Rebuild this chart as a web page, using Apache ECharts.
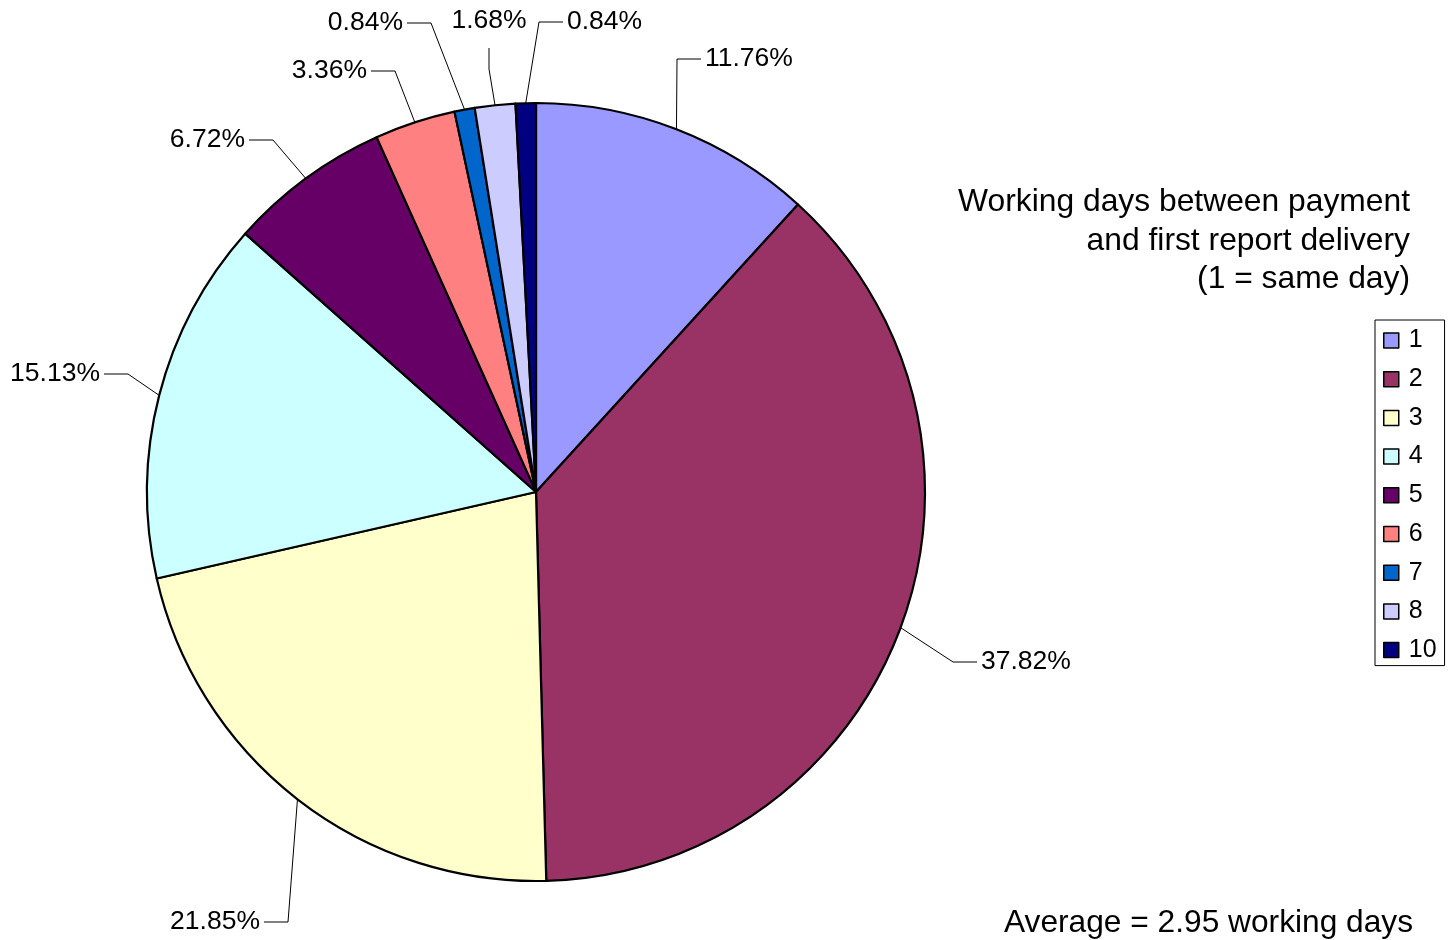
<!DOCTYPE html>
<html><head><meta charset="utf-8">
<script src="https://cdn.jsdelivr.net/npm/echarts@6/dist/echarts.min.js"></script>
<style>html,body{margin:0;padding:0;background:#fff}#c{width:1448px;height:940px}</style>
</head><body><div id="c"></div>
<script>
const categories = ['1', '2', '3', '4', '5', '6', '7', '8', '10'];
const shares = [11.76, 37.82, 21.85, 15.13, 6.72, 3.36, 0.84, 1.68, 0.84];
const sliceColors = ['#9999FF', '#993366', '#FFFFCC', '#CCFFFF', '#660066', '#FF8080', '#0066CC', '#CCCCFF', '#000080'];
const titleLines = ['Working days between payment', 'and first report delivery', '(1 = same day)'];
const footnote = 'Average = 2.95 working days';
// label placement (text anchor x, y and side the leader line arrives from)
const labelAnchors = [
  [705, 59, 'left'], [981, 662, 'left'], [260, 922, 'right'], [100, 374, 'right'],
  [245, 140, 'right'], [367, 71, 'right'], [403, 23, 'right'], [489, 21, 'below'], [567, 22, 'left']
];
const FONT = '"Liberation Sans", Arial, sans-serif';
const GAP = 4, L2 = 24;

const chart = echarts.init(document.getElementById('c'), null, {renderer: 'canvas'});
chart.setOption({
  backgroundColor: '#fff',
  animation: false,
  graphic: [
    {type: 'text', x: 1410, y: 183, silent: true,
     style: {text: titleLines.join('\n'), fontSize: 31.8, fontFamily: FONT, lineHeight: 38.5,
             align: 'right', verticalAlign: 'top', fill: '#000'}},
    {type: 'text', x: 1413, y: 923, silent: true,
     style: {text: footnote, fontSize: 31.7, fontFamily: FONT, align: 'right', verticalAlign: 'middle', fill: '#000'}}
  ],
  legend: {
    orient: 'vertical', left: 1375, top: 320, data: categories, icon: 'rect',
    itemWidth: 15, itemHeight: 15, itemGap: 13.7, padding: [8, 8, 3, 8],
    borderColor: '#000', borderWidth: 1, selectedMode: false,
    textStyle: {fontSize: 25, lineHeight: 24, fontFamily: FONT, color: '#000', padding: [0, 0, 0, 5]},
    itemStyle: {borderColor: '#000', borderWidth: 1.5}
  },
  series: [{
    type: 'pie', center: [536, 492], radius: 389, startAngle: 90, clockwise: true,
    avoidLabelOverlap: false, silent: true,
    data: categories.map((c, i) => ({name: c, value: shares[i], itemStyle: {color: sliceColors[i]}})),
    itemStyle: {borderColor: '#000', borderWidth: 2.2},
    label: {show: true, position: 'outside', formatter: p => p.value.toFixed(2) + '%',
            fontSize: 26.5, fontFamily: FONT, color: '#000'},
    labelLine: {show: true, length: 20, length2: 20, lineStyle: {color: '#000', width: 1}},
    emphasis: {disabled: true},
    labelLayout: function (p) {
      const a = labelAnchors[p.dataIndex];
      const x = a[0], y = a[1], side = a[2];
      let align, end, elbow;
      if (side === 'left') { align = 'left'; end = [x - GAP, y]; elbow = [x - GAP - L2, y]; }
      else if (side === 'right') { align = 'right'; end = [x + GAP, y]; elbow = [x + GAP + L2, y]; }
      else { align = 'center'; end = [x, y + 27]; elbow = [x, y + 48]; }
      const res = {x: x, y: y, align: align, verticalAlign: 'middle'};
      if (p.labelLinePoints && p.labelLinePoints[0]) res.labelLinePoints = [p.labelLinePoints[0], elbow, end];
      return res;
    }
  }]
});
</script></body></html>
